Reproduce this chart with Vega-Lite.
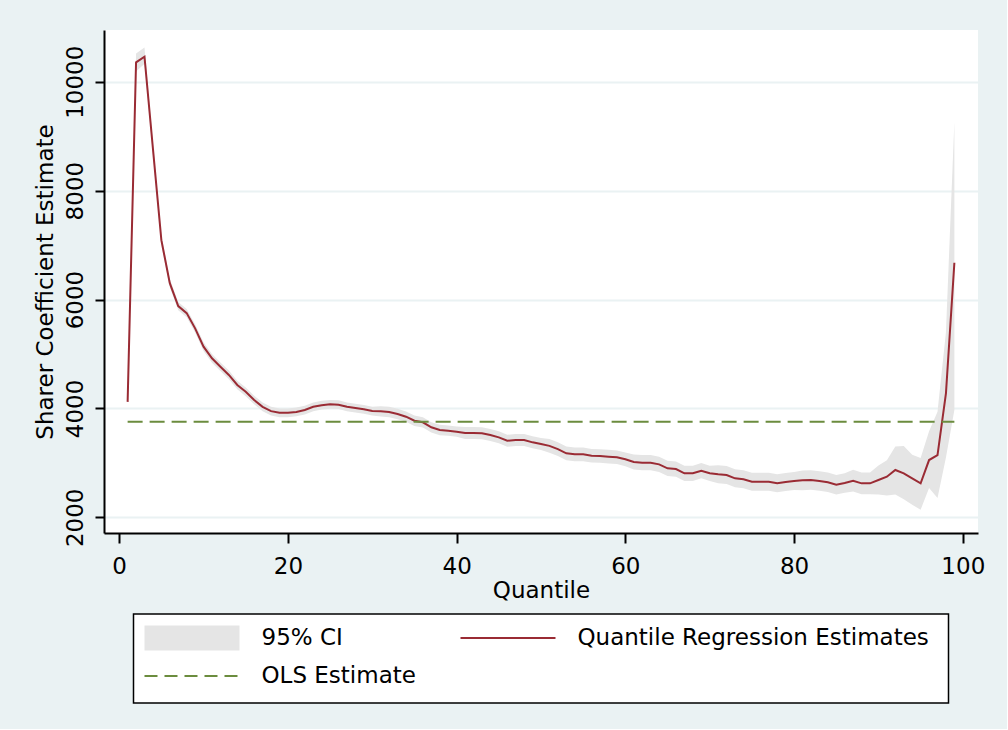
{
  "$schema": "https://vega.github.io/schema/vega-lite/v6.json",
  "padding": {"left": 34, "top": 30, "right": 22, "bottom": 25},
  "background": "#EAF2F3",
  "bounds": "flush",
  "center": true,
  "spacing": 81,
  "config": {
    "view": {"stroke": null, "fill": "white"},
    "font": "DejaVu Sans",
    "axis": {
      "labelFont": "DejaVu Sans",
      "titleFont": "DejaVu Sans",
      "labelColor": "black",
      "titleColor": "black",
      "labelFontSize": 23,
      "titleFontSize": 23,
      "titleFontWeight": "normal",
      "domainColor": "black",
      "domainWidth": 2,
      "tickColor": "black",
      "tickWidth": 2
    }
  },
  "datasets": {
    "qr": [
      {"q":1,"est":4120,"lo":4080,"hi":4160},
      {"q":2,"est":10356,"lo":10190,"hi":10520},
      {"q":3,"est":10460,"lo":10330,"hi":10630},
      {"q":4,"est":8770,"lo":8660,"hi":8880},
      {"q":5,"est":7090,"lo":7000,"hi":7180},
      {"q":6,"est":6300,"lo":6225,"hi":6375},
      {"q":7,"est":5880,"lo":5805,"hi":5955},
      {"q":8,"est":5750,"lo":5675,"hi":5825},
      {"q":9,"est":5470,"lo":5395,"hi":5545},
      {"q":10,"est":5135,"lo":5055,"hi":5215},
      {"q":11,"est":4920,"lo":4840,"hi":5000},
      {"q":12,"est":4765,"lo":4685,"hi":4845},
      {"q":13,"est":4615,"lo":4535,"hi":4695},
      {"q":14,"est":4430,"lo":4350,"hi":4510},
      {"q":15,"est":4305,"lo":4225,"hi":4385},
      {"q":16,"est":4155,"lo":4075,"hi":4235},
      {"q":17,"est":4030,"lo":3950,"hi":4110},
      {"q":18,"est":3950,"lo":3870,"hi":4030},
      {"q":19,"est":3920,"lo":3840,"hi":4000},
      {"q":20,"est":3920,"lo":3840,"hi":4000},
      {"q":21,"est":3935,"lo":3855,"hi":4015},
      {"q":22,"est":3970,"lo":3890,"hi":4050},
      {"q":23,"est":4030,"lo":3950,"hi":4110},
      {"q":24,"est":4060,"lo":3980,"hi":4140},
      {"q":25,"est":4075,"lo":3995,"hi":4155},
      {"q":26,"est":4068,"lo":3988,"hi":4148},
      {"q":27,"est":4030,"lo":3950,"hi":4110},
      {"q":28,"est":4007,"lo":3927,"hi":4087},
      {"q":29,"est":3983,"lo":3903,"hi":4063},
      {"q":30,"est":3952,"lo":3872,"hi":4032},
      {"q":31,"est":3946,"lo":3851,"hi":4041},
      {"q":32,"est":3934,"lo":3839,"hi":4029},
      {"q":33,"est":3897,"lo":3802,"hi":3992},
      {"q":34,"est":3848,"lo":3753,"hi":3943},
      {"q":35,"est":3774,"lo":3679,"hi":3869},
      {"q":36,"est":3745,"lo":3650,"hi":3840},
      {"q":37,"est":3653,"lo":3558,"hi":3748},
      {"q":38,"est":3603,"lo":3508,"hi":3698},
      {"q":39,"est":3591,"lo":3496,"hi":3686},
      {"q":40,"est":3573,"lo":3478,"hi":3668},
      {"q":41,"est":3548,"lo":3438,"hi":3658},
      {"q":42,"est":3548,"lo":3438,"hi":3658},
      {"q":43,"est":3542,"lo":3432,"hi":3652},
      {"q":44,"est":3511,"lo":3401,"hi":3621},
      {"q":45,"est":3469,"lo":3359,"hi":3579},
      {"q":46,"est":3407,"lo":3297,"hi":3517},
      {"q":47,"est":3420,"lo":3310,"hi":3530},
      {"q":48,"est":3420,"lo":3310,"hi":3530},
      {"q":49,"est":3377,"lo":3267,"hi":3487},
      {"q":50,"est":3346,"lo":3236,"hi":3456},
      {"q":51,"est":3312,"lo":3187,"hi":3437},
      {"q":52,"est":3252,"lo":3127,"hi":3377},
      {"q":53,"est":3175,"lo":3050,"hi":3300},
      {"q":54,"est":3157,"lo":3032,"hi":3282},
      {"q":55,"est":3157,"lo":3032,"hi":3282},
      {"q":56,"est":3132,"lo":3007,"hi":3257},
      {"q":57,"est":3126,"lo":3001,"hi":3251},
      {"q":58,"est":3114,"lo":2989,"hi":3239},
      {"q":59,"est":3102,"lo":2977,"hi":3227},
      {"q":60,"est":3065,"lo":2940,"hi":3190},
      {"q":61,"est":3016,"lo":2876,"hi":3156},
      {"q":62,"est":3003,"lo":2863,"hi":3143},
      {"q":63,"est":3003,"lo":2863,"hi":3143},
      {"q":64,"est":2973,"lo":2833,"hi":3113},
      {"q":65,"est":2900,"lo":2760,"hi":3040},
      {"q":66,"est":2887,"lo":2747,"hi":3027},
      {"q":67,"est":2808,"lo":2668,"hi":2948},
      {"q":68,"est":2808,"lo":2668,"hi":2948},
      {"q":69,"est":2856,"lo":2716,"hi":2996},
      {"q":70,"est":2808,"lo":2668,"hi":2948},
      {"q":71,"est":2790,"lo":2625,"hi":2955},
      {"q":72,"est":2778,"lo":2613,"hi":2943},
      {"q":73,"est":2716,"lo":2551,"hi":2881},
      {"q":74,"est":2698,"lo":2533,"hi":2863},
      {"q":75,"est":2654,"lo":2489,"hi":2819},
      {"q":76,"est":2654,"lo":2489,"hi":2819},
      {"q":77,"est":2654,"lo":2489,"hi":2819},
      {"q":78,"est":2624,"lo":2459,"hi":2789},
      {"q":79,"est":2648,"lo":2483,"hi":2813},
      {"q":80,"est":2667,"lo":2502,"hi":2832},
      {"q":81,"est":2679,"lo":2499,"hi":2859},
      {"q":82,"est":2685,"lo":2505,"hi":2865},
      {"q":83,"est":2667,"lo":2487,"hi":2847},
      {"q":84,"est":2643,"lo":2463,"hi":2823},
      {"q":85,"est":2599,"lo":2419,"hi":2779},
      {"q":86,"est":2630,"lo":2450,"hi":2810},
      {"q":87,"est":2673,"lo":2473,"hi":2873},
      {"q":88,"est":2624,"lo":2424,"hi":2824},
      {"q":89,"est":2624,"lo":2424,"hi":2824},
      {"q":90,"est":2685,"lo":2420,"hi":2950},
      {"q":91,"est":2746,"lo":2400,"hi":3050},
      {"q":92,"est":2869,"lo":2420,"hi":3300},
      {"q":93,"est":2808,"lo":2330,"hi":3310},
      {"q":94,"est":2716,"lo":2230,"hi":3150},
      {"q":95,"est":2624,"lo":2140,"hi":3090},
      {"q":96,"est":3052,"lo":2540,"hi":3580},
      {"q":97,"est":3144,"lo":2356,"hi":3940},
      {"q":98,"est":4277,"lo":3100,"hi":5400},
      {"q":99,"est":6676,"lo":3970,"hi":9265}
    ],
    "ols": [
      {"q":1,"ols":3756},
      {"q":99,"ols":3756}
    ],
    "legend": [
      {"label": "95% CI", "kind": "ci", "col": 1, "row": 1},
      {"label": "Quantile Regression Estimates", "kind": "qr", "col": 2, "row": 1},
      {"label": "OLS Estimate", "kind": "ols", "col": 1, "row": 2}
    ]
  },
  "vconcat": [
    {
      "width": 874,
      "height": 503,
      "encoding": {
        "x": {
          "field": "q",
          "type": "quantitative",
          "scale": {"domain": [-1.8, 101.8], "nice": false, "zero": false},
          "axis": {
            "title": "Quantile",
            "values": [0, 20, 40, 60, 80, 100],
            "grid": false,
            "tickSize": 10,
            "labelPadding": 12,
            "titlePadding": 1
          }
        }
      },
      "layer": [
        {
          "data": {"name": "qr"},
          "mark": {"type": "area", "color": "#E5E5E5", "opacity": 1},
          "encoding": {
            "y": {
              "field": "lo",
              "type": "quantitative",
              "scale": {"domain": [1712, 10950], "nice": false, "zero": false},
              "axis": {
                "title": "Sharer Coefficient Estimate",
                "values": [2000, 4000, 6000, 8000, 10000],
                "format": "d",
                "grid": true,
                "gridColor": "#EAF2F3",
                "gridWidth": 2,
                "tickSize": 9,
                "labelAngle": -90,
                "labelAlign": "center",
                "labelBaseline": "bottom",
                "labelPadding": 8,
                "titlePadding": 7
              }
            },
            "y2": {"field": "hi"}
          }
        },
        {
          "data": {"name": "qr"},
          "mark": {"type": "line", "color": "#9A2B34", "strokeWidth": 2},
          "encoding": {
            "y": {"field": "est", "type": "quantitative"}
          }
        },
        {
          "data": {"name": "ols"},
          "mark": {"type": "line", "color": "#6B8C3E", "strokeWidth": 2, "strokeDash": [15, 7]},
          "encoding": {
            "y": {"field": "ols", "type": "quantitative"}
          }
        }
      ]
    },
    {
      "width": 815,
      "height": 89,
      "view": {"stroke": "black", "strokeWidth": 1.5, "fill": "white"},
      "data": {"name": "legend"},
      "encoding": {
        "x": {"field": "col", "type": "quantitative", "scale": {"domain": [0.9652, 3.5443], "nice": false, "zero": false}, "axis": null},
        "y": {"field": "row", "type": "quantitative", "scale": {"domain": [0.3684, 2.7105], "nice": false, "zero": false, "reverse": true}, "axis": null}
      },
      "layer": [
        {
          "transform": [{"filter": "datum.kind === 'ci'"}],
          "mark": {"type": "rule", "stroke": "#E5E5E5", "strokeWidth": 25, "strokeCap": "butt", "x2Offset": 95},
          "encoding": {"x2": {"field": "col"}}
        },
        {
          "transform": [{"filter": "datum.kind === 'qr'"}],
          "mark": {"type": "rule", "stroke": "#9A2B34", "strokeWidth": 2, "x2Offset": 95},
          "encoding": {"x2": {"field": "col"}}
        },
        {
          "transform": [{"filter": "datum.kind === 'ols'"}],
          "mark": {"type": "rule", "stroke": "#6B8C3E", "strokeWidth": 2, "strokeDash": [13, 7], "x2Offset": 95},
          "encoding": {"x2": {"field": "col"}}
        },
        {
          "mark": {"type": "text", "align": "left", "baseline": "middle", "dx": 117, "fontSize": 23, "font": "DejaVu Sans", "color": "black"},
          "encoding": {"text": {"field": "label"}}
        }
      ]
    }
  ]
}
